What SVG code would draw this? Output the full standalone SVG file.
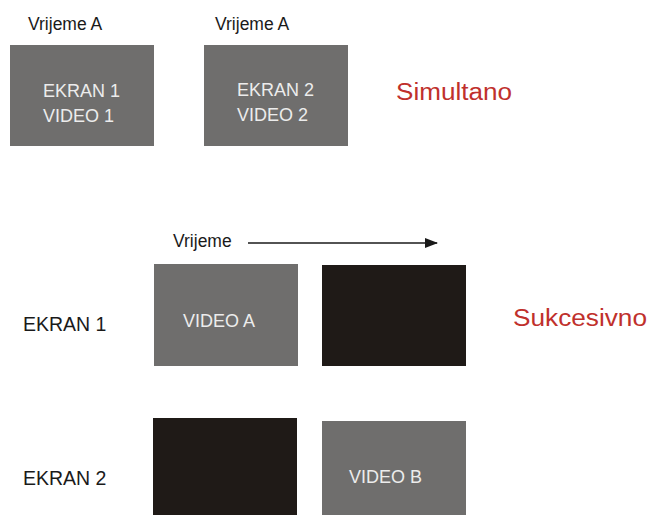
<svg xmlns="http://www.w3.org/2000/svg" width="650" height="515" viewBox="0 0 650 515">
<defs>
<style>
.gray{fill:#6f6e6d}
.dark{fill:#1f1a17}
.in{font-family:"Liberation Sans",Arial,sans-serif;font-size:18px;fill:#ececec}
.lbl{font-family:"Liberation Sans",Arial,sans-serif;font-size:17.5px;fill:#1a1a1a}
.side{font-family:"Liberation Sans",Arial,sans-serif;font-size:19.5px;fill:#1a1a1a}
.red{font-family:"Liberation Sans",Arial,sans-serif;font-size:23px;fill:#c0302c}
</style>
<marker id="ah" markerWidth="13" markerHeight="10" refX="12" refY="5" orient="auto" markerUnits="userSpaceOnUse">
<path d="M0,0 L13,5 L0,10 Z" fill="#1a1a1a"/>
</marker>
</defs>
<rect width="650" height="515" fill="#ffffff"/>
<text class="lbl" x="28" y="30">Vrijeme A</text>
<text class="lbl" x="215" y="30">Vrijeme A</text>
<g id="ekran1-video1">
<rect class="gray" x="10" y="45" width="144" height="101"/>
<text class="in" x="43" y="97">EKRAN 1</text>
<text class="in" x="43" y="122">VIDEO 1</text>
</g>
<g id="ekran2-video2">
<rect class="gray" x="204" y="45" width="144" height="101"/>
<text class="in" x="237" y="96">EKRAN 2</text>
<text class="in" x="237" y="121">VIDEO 2</text>
</g>
<text class="red" x="396" y="100" textLength="116" lengthAdjust="spacingAndGlyphs">Simultano</text>
<text class="lbl" x="173" y="247">Vrijeme</text>
<g id="connectors">
<line x1="248" y1="243" x2="437" y2="243" stroke="#1a1a1a" stroke-width="1.6" marker-end="url(#ah)"/>
</g>
<text class="side" x="23" y="331">EKRAN 1</text>
<text class="side" x="23" y="485">EKRAN 2</text>
<g id="video-a">
<rect class="gray" x="154" y="264" width="144" height="102"/>
<text class="in" x="183" y="327">VIDEO A</text>
</g>
<g id="black-1">
<rect class="dark" x="322" y="265" width="144" height="101"/>
</g>
<text class="red" x="513" y="326" textLength="134" lengthAdjust="spacingAndGlyphs">Sukcesivno</text>
<g id="black-2">
<rect class="dark" x="153" y="418" width="144" height="97"/>
</g>
<g id="video-b">
<rect class="gray" x="322" y="421" width="144" height="94"/>
<text class="in" x="349" y="483">VIDEO B</text>
</g>
</svg>
